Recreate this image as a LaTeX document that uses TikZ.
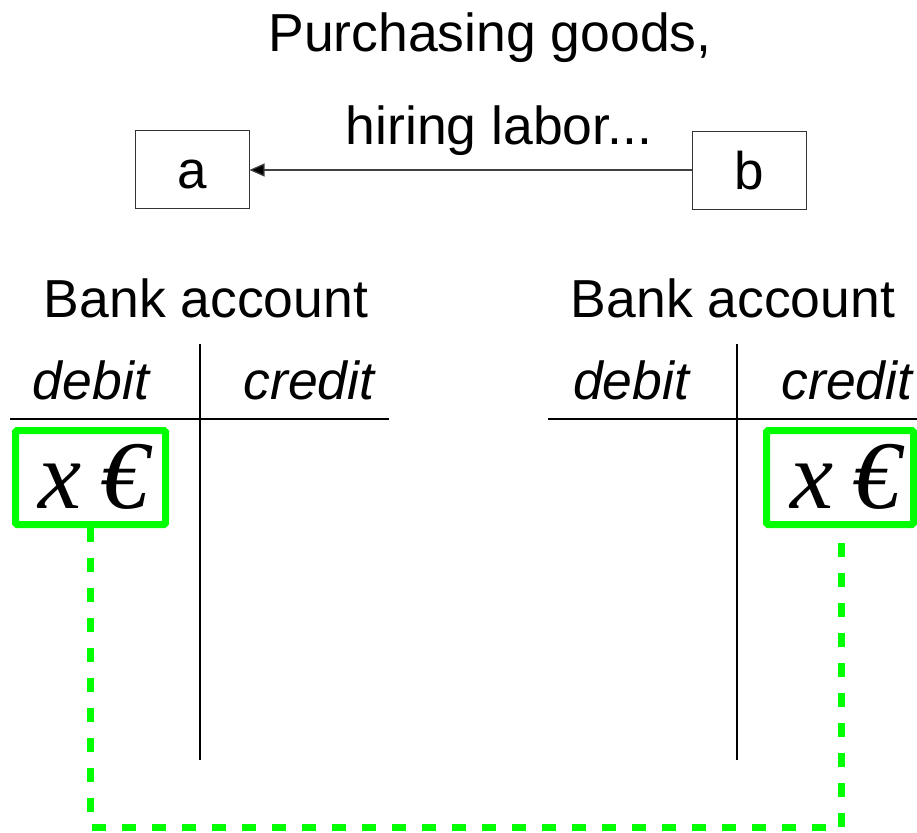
\documentclass[tikz,border=0pt]{standalone}
\usepackage{fontspec}
\setmainfont{Liberation Sans}
\newfontfamily\seriffont{Liberation Serif}
\usetikzlibrary{arrows.meta}
\definecolor{brightgreen}{RGB}{0,255,0}
\tikzset{
  lbl/.style={inner sep=0pt, anchor=base, font=\fontsize{53.5}{60}\selectfont},
  ilbl/.style={inner sep=0pt, anchor=base, font=\fontsize{53.5}{60}\selectfont\itshape},
  agent/.style={draw=black!80, line width=1pt, minimum width=114pt, minimum height=78pt, inner sep=0pt, text height=38pt, text depth=0pt, font=\fontsize{53}{60}\selectfont},
  tline/.style={line width=1.6pt, black},
  gbox/.style={draw=brightgreen, line width=7pt, rounded corners=1.5pt},
  money/.style={inner sep=0pt, anchor=base, font=\fontsize{97}{100}\selectfont\seriffont\itshape},
  gdash/.style={draw=brightgreen, line width=7pt, dash pattern=on 14pt off 16pt}
}
\begin{document}
\begin{tikzpicture}[x=1pt,y=-1pt]
\useasboundingbox (0,0) rectangle (917,832);
% title
\node[lbl] (t1) at (490,52) {Purchasing goods,};
\node[lbl] (t2) at (499,144) {hiring labor...};
% agents
\node[agent] (a) at (192,169.5) {a};
\node[agent] (b) at (749,170) {b};
\draw[line width=1.2pt, black!75, -{Triangle[length=15pt,width=13pt,fill=black]}] (b.west) -- (a.east |- b.west);
% left account
\node[lbl] (bankL) at (206,317) {Bank account};
\node[ilbl] (debL) at (91,399) {debit};
\node[ilbl] (creL) at (309,399) {credit};
\coordinate (hL1) at (10,419);
\coordinate (hL2) at (389,419);
\coordinate (vL1) at (200,344);
\coordinate (vL2) at (200,760);
\draw[tline] (hL1) -- (hL2);
\draw[tline] (vL1) -- (vL2);
% right account
\node[lbl] (bankR) at (733,317) {Bank account};
\node[ilbl] (debR) at (631,399) {debit};
\node[ilbl] (creR) at (847,399) {credit};
\coordinate (hR1) at (548,419);
\coordinate (hR2) at (917,419);
\coordinate (vR1) at (737,344);
\coordinate (vR2) at (737,760);
\draw[tline] (hR1) -- (hR2);
\draw[tline] (vR1) -- (vR2);
% green boxes
\draw[gbox] (15.5,430.5) rectangle (165.5,524.5);
\coordinate (gL) at (90.5,528);
\node[money] (xL) at (94,508) {x\hspace{19pt}€};
\draw[gbox] (766.5,430.5) rectangle (913.5,524.5);
\coordinate (gR) at (841,528);
\node[money] (xR) at (846,508) {x\hspace{19pt}€};
% dashed connector
\coordinate (cL) at (90.5,827);
\coordinate (cR) at (841,827);
\draw[gdash] (gL) -- (cL) -- (cR) -- (gR);
\end{tikzpicture}
\end{document}
